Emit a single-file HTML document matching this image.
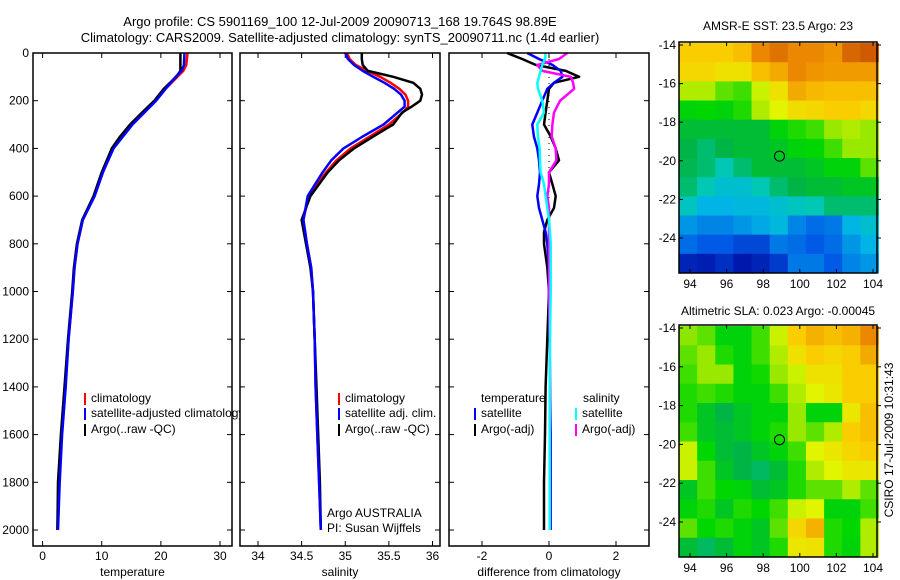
<!DOCTYPE html>
<html><head><meta charset="utf-8">
<style>
html,body{margin:0;padding:0;background:#fff;}
svg{display:block;font-family:"Liberation Sans",sans-serif;}
text{font-size:12px;fill:#000;}
</style></head>
<body>
<svg id="chart" xmlns="http://www.w3.org/2000/svg" width="900" height="580" viewBox="0 0 900 580">
<text x="340" y="26" text-anchor="middle" style="font-size:13px">Argo profile: CS 5901169_100 12-Jul-2009 20090713_168 19.764S 98.89E</text>
<text x="340" y="42" text-anchor="middle" style="font-size:13px">Climatology: CARS2009. Satellite-adjusted climatology: synTS_20090711.nc (1.4d earlier)</text>
<g id="g1"></g>
<g id="g2"></g>
<g id="g3"></g>
<g id="m1"></g>
<g id="m2"></g>
<text transform="translate(893,440) rotate(-90)" text-anchor="middle">CSIRO 17-Jul-2009 10:31:43</text>
</svg>
<script>
// ---- data ----
const depthTicks=[0,200,400,600,800,1000,1200,1400,1600,1800,2000];
const tDepth=[0,50,75,100,150,200,250,300,350,400,500,600,700,800,900,1000,1200,1400,1600,1800,2000];
const tempClim=[24.5,24.3,23.8,22.8,20.8,19.1,17.0,15.0,13.3,11.9,10.2,8.8,6.8,5.9,5.4,5.1,4.4,3.8,3.2,2.8,2.5];
const tempSat=[24.0,23.9,23.5,22.5,20.8,19.2,17.2,15.2,13.6,12.0,10.2,8.8,6.8,5.9,5.4,5.1,4.4,3.9,3.3,2.9,2.6];
const tempArgo=[23.3,23.3,23.3,22.6,20.5,18.9,16.8,14.8,13.1,11.7,10.0,8.6,6.7,5.8,5.3,5.0,4.3,3.7,3.1,2.6,2.5];
const tempTicks=[0,10,20,30];
const sDepth=[0,25,50,75,100,125,150,175,200,225,250,300,350,400,450,500,600,700,800,900,1000,1200,1400,1600,1800,2000];
const salClim=[35.02,35.05,35.12,35.25,35.4,35.52,35.62,35.69,35.72,35.72,35.66,35.5,35.28,35.06,34.9,34.78,34.58,34.52,34.56,34.61,34.63,34.65,34.66,34.68,34.70,34.72];
const salSatAbs=[35.0,35.03,35.1,35.2,35.32,35.45,35.56,35.64,35.68,35.68,35.6,35.44,35.2,34.98,34.84,34.74,34.57,34.52,34.56,34.61,34.63,34.65,34.66,34.68,34.70,34.72];
const salArgoAbs=[35.19,35.19,35.2,35.26,35.55,35.78,35.86,35.88,35.86,35.76,35.65,35.55,35.32,35.1,34.93,34.8,34.6,34.5,34.55,34.6,34.63,34.65,34.67,34.69,34.71,34.72];
const salTicks=[34,34.5,35,35.5,36];
const dDepth=[0,25,50,75,100,125,150,200,250,300,350,400,450,500,550,600,650,700,750,800,900,1000,1200,1400,1600,1800,2000];
const dTempArgo=[-1.25,-0.8,-0.4,0.5,0.9,0.15,0.0,-0.05,-0.1,-0.15,0.05,0.2,0.3,0.0,0.1,0.2,0.15,-0.05,-0.15,-0.15,-0.05,0.0,-0.05,-0.1,-0.12,-0.15,-0.15];
const dTempSat=[-0.65,-0.3,0.1,0.35,0.4,0.15,-0.05,-0.2,-0.35,-0.5,-0.45,-0.35,-0.3,-0.27,-0.3,-0.35,-0.3,-0.2,-0.1,-0.05,0.0,0.0,0.02,0.03,0.05,0.05,0.05];
const dSalSat=[-0.1,-0.12,-0.2,-0.25,-0.3,-0.35,-0.33,-0.2,-0.15,-0.35,-0.33,-0.28,-0.27,-0.25,-0.15,-0.1,-0.05,0.0,0.03,0.05,0.05,0.05,0.03,0.02,0.02,0.02,0.02];
const dSalArgo=[0.55,0.3,-0.35,-0.2,0.65,0.72,0.75,0.33,0.15,0.1,0.08,0.2,0.22,0.0,0.0,-0.05,0.0,0.0,0.0,0.0,0.0,0.0,0.02,0.03,0.03,0.03,0.03];
const diffTicks=[-2,0,2];
const lonTicks=[94,96,98,100,102,104];
const latTicks=[-14,-16,-18,-20,-22,-24];
const sstGrid=[
[0.8,0.8,0.8,0.82,0.9,0.93,0.9,0.9,0.88,0.95,0.97],
[0.78,0.78,0.76,0.76,0.82,0.85,0.9,0.88,0.87,0.87,0.87],
[0.68,0.68,0.62,0.6,0.7,0.76,0.85,0.83,0.82,0.82,0.82],
[0.55,0.56,0.55,0.58,0.68,0.72,0.77,0.78,0.8,0.8,0.78],
[0.5,0.5,0.5,0.5,0.5,0.55,0.58,0.6,0.66,0.68,0.66],
[0.48,0.45,0.48,0.5,0.5,0.52,0.55,0.56,0.6,0.66,0.66],
[0.47,0.45,0.4,0.45,0.5,0.5,0.5,0.52,0.55,0.55,0.62],
[0.45,0.4,0.35,0.35,0.4,0.45,0.48,0.5,0.5,0.52,0.52],
[0.38,0.3,0.3,0.32,0.32,0.35,0.38,0.4,0.45,0.45,0.45],
[0.25,0.22,0.22,0.25,0.28,0.32,0.22,0.18,0.2,0.3,0.35],
[0.18,0.15,0.15,0.12,0.12,0.2,0.18,0.15,0.18,0.25,0.3],
[0.06,0.05,0.08,0.04,0.06,0.1,0.2,0.2,0.15,0.22,0.25]];
const slaGrid=[
[0.65,0.62,0.55,0.55,0.6,0.7,0.8,0.84,0.82,0.84,0.9],
[0.62,0.66,0.58,0.55,0.6,0.68,0.76,0.8,0.78,0.8,0.85],
[0.6,0.66,0.66,0.55,0.57,0.66,0.7,0.76,0.76,0.8,0.8],
[0.58,0.6,0.58,0.55,0.55,0.6,0.68,0.72,0.75,0.8,0.8],
[0.58,0.52,0.48,0.52,0.55,0.55,0.66,0.55,0.55,0.75,0.82],
[0.6,0.52,0.5,0.52,0.55,0.58,0.66,0.62,0.68,0.8,0.82],
[0.7,0.56,0.5,0.48,0.52,0.55,0.6,0.72,0.75,0.78,0.8],
[0.7,0.6,0.52,0.48,0.46,0.5,0.58,0.68,0.72,0.75,0.75],
[0.52,0.6,0.56,0.55,0.5,0.52,0.58,0.62,0.62,0.68,0.62],
[0.55,0.58,0.52,0.58,0.56,0.6,0.7,0.72,0.55,0.55,0.6],
[0.62,0.56,0.58,0.55,0.52,0.62,0.78,0.84,0.58,0.56,0.68],
[0.5,0.46,0.5,0.55,0.52,0.58,0.75,0.76,0.58,0.55,0.68]];
const floatPos=[98.89,-19.76];

const NS='http://www.w3.org/2000/svg';
function mk(tag,attrs,parent){const e=document.createElementNS(NS,tag);for(const k in attrs)e.setAttribute(k,attrs[k]);parent.appendChild(e);return e;}
const y0=53,pxm=(530-53)/2000,yBot=546;
const yD=d=>y0+d*pxm;

function panel(g,left,right,x0v,x1v,px0,px1,ticks,title,showDepth){
  const xs=v=>px0+(v-x0v)*(px1-px0)/(x1v-x0v);
  const bg=mk('rect',{x:left,y:y0,width:right-left,height:yBot-y0,fill:'#fff',stroke:'none'},g);
  
  ticks.forEach(t=>{
    const x=xs(t);
    const l=mk('line',{x1:x,x2:x,y1:yBot,y2:yBot-5,stroke:'#000'},g);
    
    const l2=mk('line',{x1:x,x2:x,y1:y0,y2:y0+5,stroke:'#000'},g);
    
    const tx=mk('text',{x:x,y:560,'text-anchor':'middle'},g);tx.textContent=String(t);
    
  });
  depthTicks.forEach(d=>{
    const y=yD(d);
    const a=mk('line',{x1:left,x2:left+5,y1:y,y2:y,stroke:'#000'},g);
    
    const b=mk('line',{x1:right,x2:right-5,y1:y,y2:y,stroke:'#000'},g);
    
    if(showDepth){const t=mk('text',{x:left-4,y:y+4,'text-anchor':'end'},g);t.textContent=String(d);
      }
  });
  const tt=mk('text',{x:(left+right)/2,y:576,'text-anchor':'middle'},g);tt.textContent=title;
  
  return xs;
}
function frame(g,left,right){
  const f=mk('rect',{x:left,y:y0,width:right-left,height:yBot-y0,fill:'none',stroke:'#000','stroke-width':1.5},g);
  
}
function line(g,xs,depths,vals,color,name,w){
  const pts=vals.map((v,i)=>xs(v).toFixed(1)+','+yD(depths[i]).toFixed(1)).join(' ');
  const p=mk('polyline',{points:pts,fill:'none',stroke:color,'stroke-width':w||2.5,'stroke-linejoin':'round'},g);
  
}
function legend(g,x,y,color,label,name){
  const r=mk('rect',{x:x,y:y-9,width:2,height:12,fill:color},g);
  
  const t=mk('text',{x:x+7,y:y},g);t.textContent=label;
  
}
const g1=document.getElementById('g1'),g2=document.getElementById('g2'),g3=document.getElementById('g3');
// temperature
let xs=panel(g1,33,232,0,30,42.6,220,tempTicks,'temperature',true);
line(g1,xs,tDepth,tempClim,'#f00','temp-climatology-line');
line(g1,xs,tDepth,tempArgo,'#000','temp-argo-line');
line(g1,xs,tDepth,tempSat,'#00f','temp-satellite-line');
legend(g1,84,402,'#f00','climatology','legend-climatology');
legend(g1,84,417,'#00f','satellite-adjusted climatology','legend-satellite');
legend(g1,84,433,'#000','Argo(..raw -QC)','legend-argo');
frame(g1,33,232);
// salinity
xs=panel(g2,240,440,34,36,258,432.5,salTicks,'salinity',false);
line(g2,xs,sDepth,salClim,'#f00','sal-climatology-line');
line(g2,xs,sDepth,salArgoAbs,'#000','sal-argo-line');
line(g2,xs,sDepth,salSatAbs,'#00f','sal-satellite-line');
legend(g2,338,402,'#f00','climatology','legend-climatology');
legend(g2,338,417,'#00f','satellite adj. clim.','legend-satellite');
legend(g2,338,433,'#000','Argo(..raw -QC)','legend-argo');
let t=mk('text',{x:327,y:517},g2);t.textContent='Argo AUSTRALIA';

t=mk('text',{x:327,y:532},g2);t.textContent='PI: Susan Wijffels';

frame(g2,240,440);
// difference
xs=panel(g3,449,649,-2,2,482,616,diffTicks,'difference from climatology',false);
const z=mk('line',{x1:xs(0),x2:xs(0),y1:y0,y2:yD(2000),stroke:'#000','stroke-dasharray':'1,5'},g3);

line(g3,xs,dDepth,dTempArgo,'#000','temp-argo-diff-line');
line(g3,xs,dDepth,dTempSat,'#00f','temp-satellite-diff-line');
line(g3,xs,dDepth,dSalArgo,'#f0f','sal-argo-diff-line');
line(g3,xs,dDepth,dSalSat,'#0ff','sal-satellite-diff-line');
t=mk('text',{x:481,y:402},g3);t.textContent='temperature';

t=mk('text',{x:583,y:402},g3);t.textContent='salinity';

legend(g3,474,417,'#00f','satellite','legend-temp-satellite');
legend(g3,474,433,'#000','Argo(-adj)','legend-temp-argo');
legend(g3,575,417,'#0ff','satellite','legend-sal-satellite');
legend(g3,575,433,'#f0f','Argo(-adj)','legend-sal-argo');
frame(g3,449,649);

// colormap
const stops=[[0,[0,0,150]],[0.15,[0,90,230]],[0.3,[0,180,230]],[0.4,[0,200,180]],[0.48,[0,180,70]],[0.56,[0,215,0]],[0.65,[140,230,0]],[0.72,[225,245,0]],[0.8,[250,205,0]],[0.9,[235,135,0]],[1,[195,70,0]]];
function cmap(v){v=Math.max(0,Math.min(1,v));for(let i=1;i<stops.length;i++){if(v<=stops[i][0]){const a=stops[i-1],b=stops[i],f=(v-a[0])/(b[0]-a[0]);const c=a[1].map((x,k)=>Math.round(x+(b[1][k]-x)*f));return 'rgb('+c.join(',')+')';}}return 'rgb(195,70,0)';}
function map(id,grid,top,bot,lat14,lat24,titleText,titleY){
  const g=document.getElementById(id);
  const L=679,R=877;
  const lx=v=>690+(v-94)*(873-690)/10;
  const ly=v=>lat14+(-14-v)*(lat24-lat14)/10;
  const lon0=93.4,lat0=-13.9;
  const nr=grid.length,nc=grid[0].length;
  const dLon=(104.3-lon0)/nc,dLat=((-14-( (bot-lat14)/((lat24-lat14)/10) ))-lat0)/nr;
  grid.forEach((row,r)=>row.forEach((v,c)=>{
    const x1=lx(lon0+c*dLon),x2=lx(lon0+(c+1)*dLon);
    const y1=ly(lat0+r*dLat),y2=ly(lat0+(r+1)*dLat);
    const e=mk('rect',{x:x1,y:y1,width:x2-x1+0.5,height:y2-y1+0.5,fill:cmap(v)},g);
    
  }));
  const f=mk('rect',{x:L,y:top,width:R-L,height:bot-top,fill:'none',stroke:'#000','stroke-width':1.5},g);
  
  lonTicks.forEach(v=>{const x=lx(v);
    const a=mk('line',{x1:x,x2:x,y1:bot,y2:bot-4,stroke:'#000'},g);
    const b=mk('line',{x1:x,x2:x,y1:top,y2:top+4,stroke:'#000'},g);
    const tx=mk('text',{x:x,y:bot+15,'text-anchor':'middle'},g);tx.textContent=String(v);});
  latTicks.forEach(v=>{const y=ly(v);
    const a=mk('line',{x1:L,x2:L+4,y1:y,y2:y,stroke:'#000'},g);
    const b=mk('line',{x1:R,x2:R+4,y1:y,y2:y,stroke:'#000'},g);
    const tx=mk('text',{x:L-3,y:y+4,'text-anchor':'end'},g);tx.textContent=String(v);});
  const c=mk('circle',{cx:lx(floatPos[0]),cy:ly(floatPos[1]),r:5,fill:'none',stroke:'#000','stroke-width':1},g);
  
  const tt=mk('text',{x:(L+R)/2,y:titleY,'text-anchor':'middle'},g);tt.textContent=titleText;
  
}
map('m1',sstGrid,42,273,45,238,'AMSR-E SST: 23.5 Argo: 23',30);
map('m2',slaGrid,325,557,328,522,'Altimetric SLA: 0.023 Argo: -0.00045',315);
</script>
</body></html>
